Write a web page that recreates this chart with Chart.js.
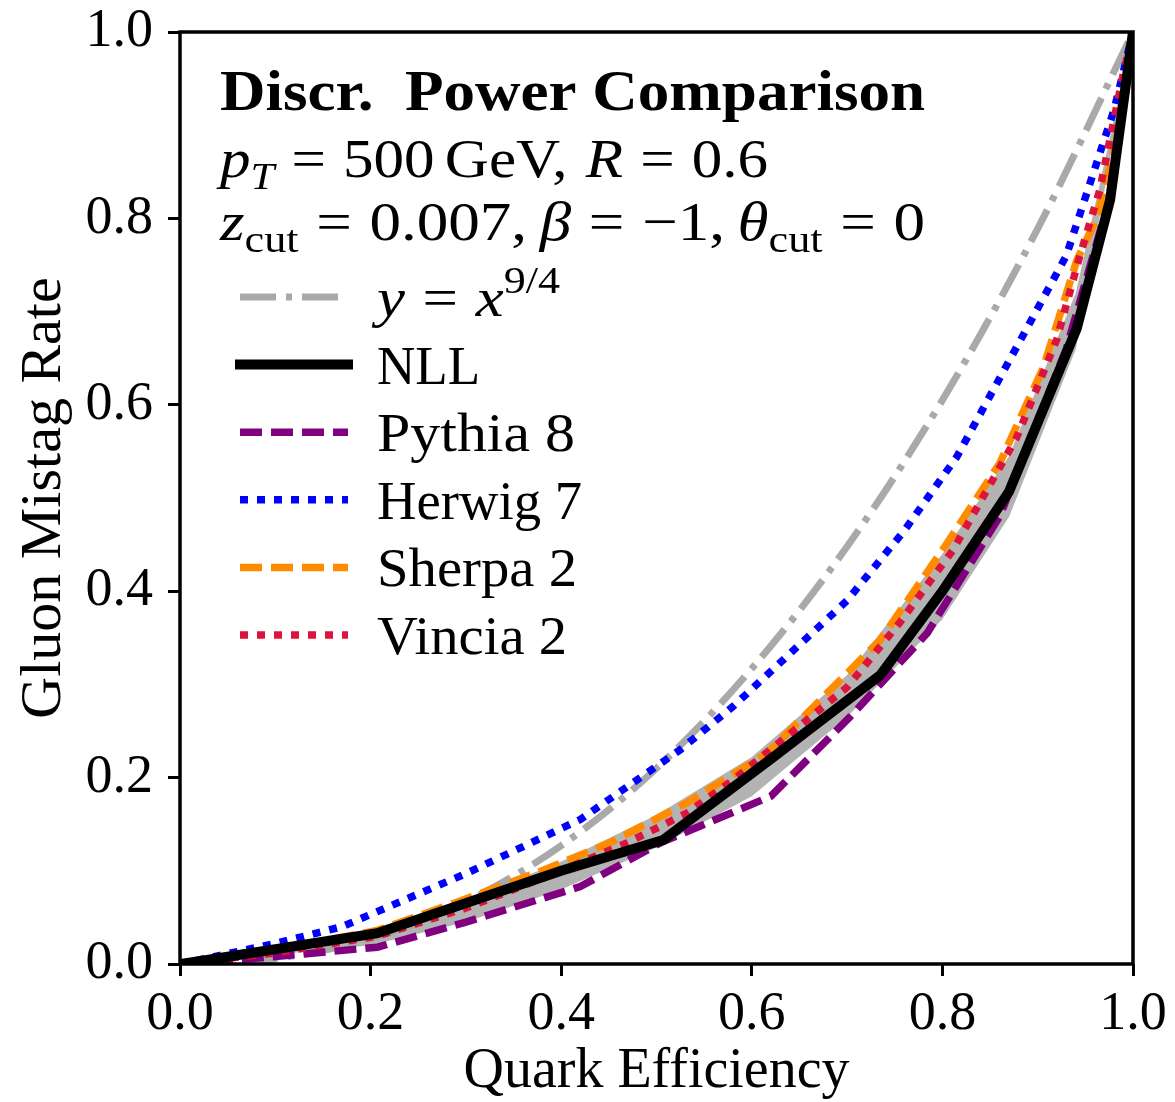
<!DOCTYPE html>
<html>
<head>
<meta charset="utf-8">
<script src="https://cdn.jsdelivr.net/npm/chart.js@4.4.1/dist/chart.umd.min.js"></script>
<style>
  body { margin: 0; background: #fff; }
</style>
</head>
<body>
<canvas id="rocChart" width="1175" height="1102"></canvas>
<script>
// values
const axisTicks = [0, 0.2, 0.4, 0.6, 0.8, 1.0];

const powerX = [0, 0.1, 0.2, 0.3, 0.4, 0.5, 0.6, 0.7, 0.8, 0.9, 1.0];
const powerY = [0, 0.006, 0.027, 0.067, 0.127, 0.21, 0.317, 0.448, 0.605, 0.789, 1.0];

const nllX = [0, 0.02, 0.207, 0.4, 0.507, 0.62, 0.735, 0.80, 0.87, 0.941, 0.976, 1.0];
const nllY = [0, 0.003, 0.033, 0.10, 0.133, 0.22, 0.31, 0.40, 0.507, 0.682, 0.82, 1.0];

const bandX = [0, 0.2, 0.3, 0.4, 0.5, 0.6, 0.7, 0.8, 0.87, 0.94, 1.0];
const bandHigh = [0, 0.037, 0.068, 0.11, 0.16, 0.222, 0.31, 0.44, 0.545, 0.72, 1.0];
const bandLow = [0, 0.02, 0.045, 0.08, 0.125, 0.18, 0.265, 0.37, 0.48, 0.66, 1.0];

const pythiaX = [0, 0.1, 0.207, 0.30, 0.42, 0.504, 0.62, 0.703, 0.784, 0.86, 0.93, 0.975, 1.0];
const pythiaY = [0, 0.008, 0.018, 0.045, 0.083, 0.13, 0.18, 0.265, 0.355, 0.48, 0.66, 0.82, 1.0];

const herwigX = [0, 0.1, 0.17, 0.3, 0.42, 0.525, 0.58, 0.70, 0.76, 0.815, 0.895, 0.93, 0.98, 1.0];
const herwigY = [0, 0.022, 0.04, 0.097, 0.155, 0.23, 0.276, 0.39, 0.465, 0.544, 0.694, 0.76, 0.916, 1.0];

const sherpaX = [0, 0.1, 0.207, 0.287, 0.38, 0.451, 0.532, 0.616, 0.70, 0.735, 0.80, 0.86, 0.906, 0.941, 0.962, 0.983, 1.0];
const sherpaY = [0, 0.015, 0.036, 0.065, 0.10, 0.13, 0.173, 0.226, 0.312, 0.348, 0.444, 0.537, 0.64, 0.755, 0.80, 0.884, 1.0];

const vinciaX = [0, 0.1, 0.207, 0.3, 0.4, 0.469, 0.532, 0.58, 0.70, 0.755, 0.811, 0.878, 0.92, 0.944, 0.965, 0.99, 1.0];
const vinciaY = [0, 0.012, 0.03, 0.06, 0.10, 0.13, 0.162, 0.197, 0.297, 0.366, 0.444, 0.565, 0.67, 0.759, 0.83, 0.956, 1.0];

const FONT = '"Liberation Serif", "DejaVu Serif", serif';

function pts(xs, ys) {
    return xs.map((x, i) => ({x: x, y: ys[i]}));
}

function curve(label, xs, ys, color, width, dash, order) {
    return {
        label: label,
        data: pts(xs, ys),
        borderColor: color,
        borderWidth: width,
        borderDash: dash,
        pointRadius: 0,
        fill: false,
        order: order
    };
}

const datasets = [
    curve('power', powerX, powerY, '#a9a9a9', 7, [36, 10, 6, 10], 6),
    curve('NLL', nllX, nllY, '#000000', 10, [], 0),
    curve('Pythia 8', pythiaX, pythiaY, '#800080', 7.5, [22, 9], 5),
    curve('Herwig 7', herwigX, herwigY, '#0000ff', 7.5, [8, 9], 4),
    curve('Sherpa 2', sherpaX, sherpaY, '#ff8c00', 7.5, [22, 9], 3),
    curve('Vincia 2', vinciaX, vinciaY, '#dc143c', 7.5, [8, 9], 2),
    {
        label: 'band high',
        data: pts(bandX, bandHigh),
        borderWidth: 0,
        pointRadius: 0,
        backgroundColor: '#b3b3b3',
        fill: '+1',
        order: 8
    },
    {
        label: 'band low',
        data: pts(bandX, bandLow),
        borderWidth: 0,
        pointRadius: 0,
        fill: false,
        order: 9
    }
];
datasets[0].cubicInterpolationMode = 'monotone';

function partFont(p, size) {
    const fs = (p.sub || p.sup) ? size * 0.7 : size;
    return (p.it ? 'italic ' : '') + (p.bold ? 'bold ' : '') + fs + 'px ' + FONT;
}

// text with italic / sub / sup pieces, stretched to a given width (TeX is wider)
function drawRich(ctx, parts, x, y, size, width) {
    let total = 0;
    for (const p of parts) {
        if (p.gap) { total += p.gap * size; continue; }
        ctx.font = partFont(p, size);
        total += ctx.measureText(p.t).width;
    }
    const sx = width ? width / total : 1;
    ctx.save();
    ctx.translate(x, y);
    ctx.scale(sx, 1);
    ctx.textBaseline = 'alphabetic';
    ctx.textAlign = 'left';
    let cx = 0;
    for (const p of parts) {
        if (p.gap) { cx += p.gap * size; continue; }
        ctx.font = partFont(p, size);
        const dy = p.sub ? size * 0.22 : (p.sup ? -size * 0.42 : 0);
        ctx.fillText(p.t, cx, dy);
        cx += ctx.measureText(p.t).width;
    }
    ctx.restore();
}

const EQ = [{gap: 0.28}, {t: '='}, {gap: 0.28}];

const legendRows = [
    {idx: 0, w: 183, text: [{t: 'y', it: true}].concat(EQ, [{t: 'x', it: true}, {t: '9/4', sup: true}])},
    {idx: 1, w: 103, text: [{t: 'NLL'}]},
    {idx: 2, w: 198, text: [{t: 'Pythia 8'}]},
    {idx: 3, w: 205, text: [{t: 'Herwig 7'}]},
    {idx: 4, w: 200, text: [{t: 'Sherpa 2'}]},
    {idx: 5, w: 190, text: [{t: 'Vincia 2'}]}
];

const annotate = {
    id: 'annotate',
    afterDatasetsDraw(chart) {
        const ctx = chart.ctx;
        const a = chart.chartArea;
        ctx.save();
        ctx.fillStyle = '#000';
        drawRich(ctx, [{t: 'Discr.  Power Comparison', bold: true}], 220, 110, 56, 705);
        drawRich(ctx, [{t: 'p', it: true}, {t: 'T', it: true, sub: true}].concat(EQ,
                       [{t: '500'}, {gap: 0.17}, {t: 'GeV,'}, {gap: 0.3}, {t: 'R', it: true}], EQ,
                       [{t: '0.6'}]), 220, 177, 55, 548);
        drawRich(ctx, [{t: 'z', it: true}, {t: 'cut', sub: true}].concat(EQ,
                       [{t: '0.007,'}, {gap: 0.2}, {t: 'β', it: true}], EQ,
                       [{t: '−1,'}, {gap: 0.2}, {t: 'θ', it: true}, {t: 'cut', sub: true}], EQ,
                       [{t: '0'}]), 220, 240, 55, 705);

        legendRows.forEach((row, i) => {
            const ds = chart.data.datasets[row.idx];
            const cy = 297 + i * 67.6;
            ctx.save();
            ctx.beginPath();
            ctx.strokeStyle = ds.borderColor;
            ctx.lineWidth = ds.borderWidth;
            ctx.setLineDash(ds.borderDash || []);
            ctx.lineCap = row.idx === 1 ? 'square' : 'butt';
            ctx.moveTo(240, cy);
            ctx.lineTo(348, cy);
            ctx.stroke();
            ctx.restore();
            ctx.fillStyle = '#000';
            drawRich(ctx, row.text, 377, cy + 19, 55, row.w);
        });

        // frame
        ctx.strokeStyle = '#000';
        ctx.lineWidth = 3.5;
        ctx.setLineDash([]);
        ctx.strokeRect(a.left, a.top, a.right - a.left, a.bottom - a.top);
        ctx.restore();
    }
};

const tickFont = {family: FONT, size: 54};

new Chart(document.getElementById('rocChart'), {
    type: 'line',
    data: {datasets: datasets},
    plugins: [annotate],
    options: {
        responsive: false,
        animation: false,
        layout: {padding: {left: 0, top: 32, right: 42, bottom: 0}},
        plugins: {legend: {display: false}, tooltip: {enabled: false}},
        scales: {
            x: {
                type: 'linear',
                min: 0, max: 1,
                afterFit: (s) => { s.height = 138; s.paddingLeft = 0; s.paddingRight = 0; },
                afterBuildTicks: (s) => { s.ticks = axisTicks.map(v => ({value: v})); },
                grid: {drawOnChartArea: false, drawTicks: true, tickLength: 12, tickWidth: 3, tickColor: '#000'},
                border: {display: false},
                ticks: {color: '#000', font: tickFont, padding: 6, maxRotation: 0,
                        callback: (v) => v.toFixed(1)},
                title: {display: true, text: 'Quark Efficiency', color: '#000',
                        font: {family: FONT, size: 56, lineHeight: 1}, padding: {top: 0, bottom: 2}}
            },
            y: {
                type: 'linear',
                min: 0, max: 1,
                afterFit: (s) => { s.width = 180; s.paddingTop = 0; s.paddingBottom = 0; },
                afterBuildTicks: (s) => { s.ticks = axisTicks.map(v => ({value: v})); },
                grid: {drawOnChartArea: false, drawTicks: true, tickLength: 12, tickWidth: 3, tickColor: '#000'},
                border: {display: false},
                ticks: {color: '#000', font: tickFont, padding: 15,
                        callback: (v) => v.toFixed(1)},
                title: {display: true, text: 'Gluon Mistag Rate', color: '#000',
                        font: {family: FONT, size: 58, lineHeight: 1}, padding: {top: 16, bottom: 0}}
            }
        }
    }
});
</script>
</body>
</html>
